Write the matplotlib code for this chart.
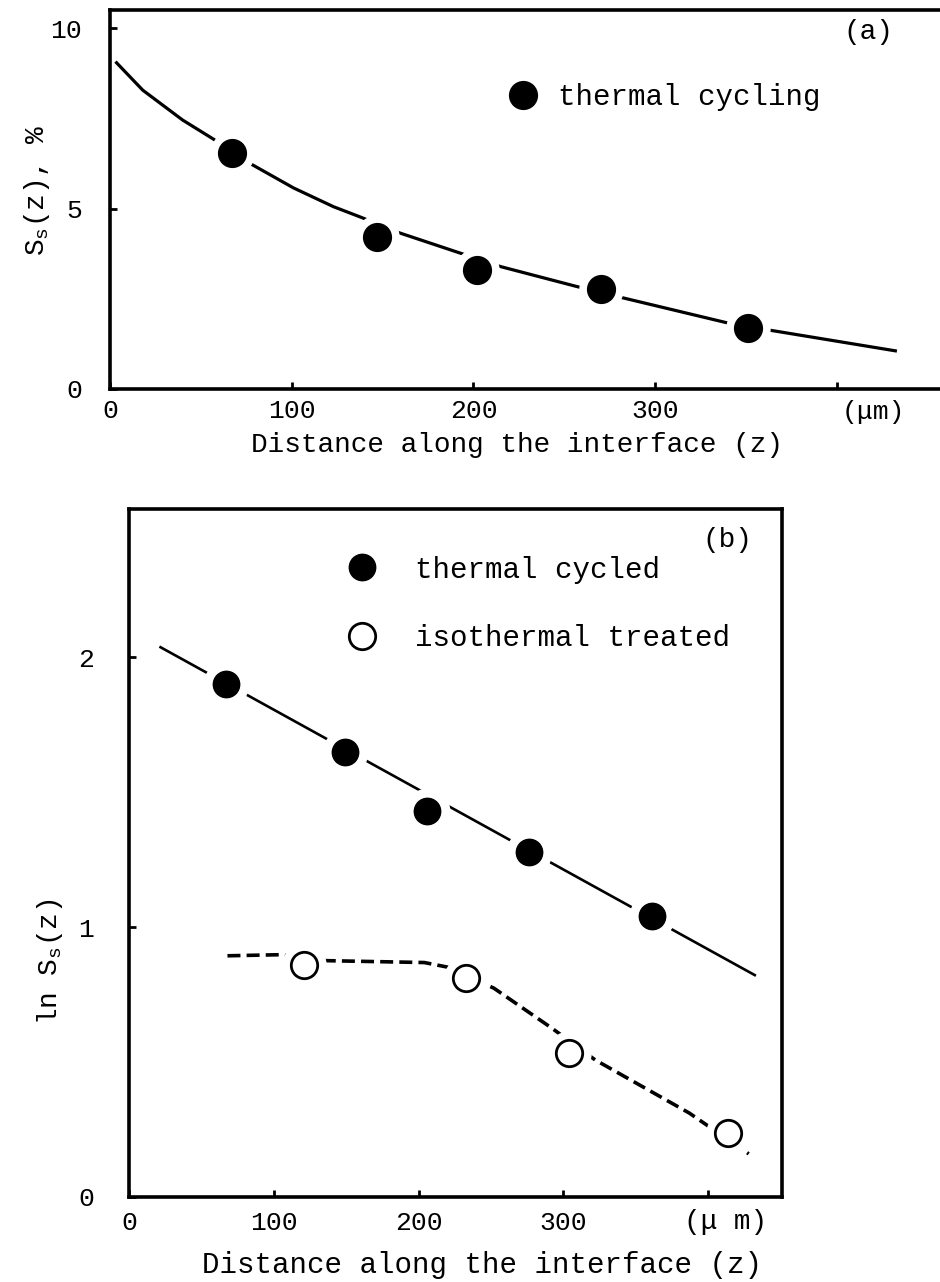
import numpy as np
import matplotlib
matplotlib.use("Agg")
import matplotlib.pyplot as plt

plt.rcParams['font.family'] = ['Liberation Mono', 'DejaVu Sans Mono']
plt.rcParams['mathtext.fontset'] = 'custom'
plt.rcParams['mathtext.rm'] = 'Liberation Mono'
plt.rcParams['mathtext.it'] = 'Liberation Mono'

# (a) thermal cycling, S_s(z) in %
a_z = [67, 147, 202, 270, 351]
a_s = [6.53, 4.22, 3.30, 2.76, 1.68]
# (a) fitted curve
a_fit_z = [3, 18, 40, 57, 77, 101, 123, 138, 159, 193, 215, 256, 281, 339, 363, 433]
a_fit_s = [9.07, 8.28, 7.45, 6.92, 6.25, 5.57, 5.05, 4.76, 4.33, 3.76, 3.39, 2.85, 2.54, 1.84, 1.63, 1.05]

# (b) ln S_s(z)
b_cyc_z = [67, 149, 206, 276, 361]
b_cyc_ln = [1.90, 1.65, 1.43, 1.28, 1.04]
b_cyc_fit_z = [21, 433]
b_cyc_fit_ln = [2.04, 0.82]
b_iso_z = [121, 233, 304, 414]
b_iso_ln = [0.86, 0.81, 0.535, 0.236]
b_iso_fit_z = [68, 104, 136, 204, 220, 252, 292, 322, 387, 428]
b_iso_fit_ln = [0.894, 0.898, 0.876, 0.869, 0.852, 0.774, 0.626, 0.508, 0.311, 0.160]

x_ticks = [0, 100, 200, 300, 400]
x_ticklabels = ['0', '100', '200', '300', '']
a_yticks = [0, 5, 10]
b_yticks = [0, 1, 2]

W, H = 940, 1282
fig = plt.figure(figsize=(9.4, 12.82), dpi=100)

# ---------------- panel (a)
ax1 = fig.add_axes([110 / W, 1 - 389 / H, 1 - 110 / W, (389 - 10) / H])
ax1.plot(a_fit_z, a_fit_s, color='black', lw=2.3, zorder=1, solid_capstyle='butt')
ax1.plot(a_z, a_s, 'o', color='white', ms=31, zorder=2)
ax1.plot(a_z, a_s, 'o', color='black', ms=20, zorder=3, label='thermal cycling')
ax1.set_xlim(0, 456.7)
ax1.set_ylim(0, 10.5)
ax1.set_xticks(x_ticks)
ax1.set_xticklabels(x_ticklabels)
ax1.set_yticks(a_yticks)
ax1.tick_params(direction='in', length=5, width=2, labelsize=19, pad=7)
ax1.tick_params(axis='y', pad=20)
ax1.spines['right'].set_visible(False)
for s in ['left', 'top', 'bottom']:
    ax1.spines[s].set_linewidth(2.6)
ax1.annotate('(\u03bcm)', xy=(420, 0), xycoords=('data', 'axes fraction'),
             xytext=(0, -23), textcoords='offset pixels', ha='center', va='center', fontsize=19)
ax1.text(0.914, 0.942, '(a)', transform=ax1.transAxes, ha='center', va='center', fontsize=20)
ax1.legend(loc='center left', bbox_to_anchor=(0.482, 0.770), frameon=False, fontsize=21,
           handlelength=0.9, handletextpad=0.75, borderpad=0, borderaxespad=0)

fig.text(517 / W, 1 - 445 / H, 'Distance along the interface (z)', ha='center', va='center', fontsize=20)
fig.text(37 / W, 1 - 190 / H, 'S$_\\mathrm{s}$(z), %', ha='center', va='center', rotation=90, fontsize=20)

# ---------------- panel (b)
ax2 = fig.add_axes([129 / W, 1 - 1197 / H, (782 - 129) / W, (1197 - 509) / H])
ax2.plot(b_cyc_fit_z, b_cyc_fit_ln, color='black', lw=1.9, zorder=1, solid_capstyle='butt')
ax2.plot(b_iso_fit_z, b_iso_fit_ln, color='black', lw=2.6, ls=(0, (3.6, 1.7)), zorder=1)
ax2.plot(b_cyc_z, b_cyc_ln, 'o', color='white', ms=32, zorder=2)
ax2.plot(b_iso_z, b_iso_ln, 'o', color='white', ms=31, zorder=2)
ax2.plot(b_cyc_z, b_cyc_ln, 'o', color='black', ms=19, zorder=3, label='thermal cycled')
ax2.plot(b_iso_z, b_iso_ln, 'o', mfc='white', mec='black', mew=2.0, ms=19, zorder=3,
         label='isothermal treated')
ax2.set_xlim(0, 451)
ax2.set_ylim(0, 2.55)
ax2.set_xticks(x_ticks)
ax2.set_xticklabels(x_ticklabels)
ax2.set_yticks(b_yticks)
ax2.tick_params(direction='in', length=5, width=2, labelsize=19, pad=10)
ax2.tick_params(axis='y', pad=25)
for s in ax2.spines.values():
    s.set_linewidth(2.6)
ax2.annotate('(\u03bc m)', xy=(412, 0), xycoords=('data', 'axes fraction'),
             xytext=(0, -25), textcoords='offset pixels', ha='center', va='center', fontsize=20)
ax2.text(0.917, 0.955, '(b)', transform=ax2.transAxes, ha='center', va='center', fontsize=20)
ax2.legend(loc='center left', bbox_to_anchor=(0.337, 0.862), frameon=False, fontsize=21,
           handlelength=0.9, handletextpad=1.35, borderpad=0, borderaxespad=0, labelspacing=1.4)

fig.text(482 / W, 1 - 1265 / H, 'Distance along the interface (z)', ha='center', va='center', fontsize=21)
fig.text(50 / W, 1 - 962 / H, 'ln S$_\\mathrm{s}$(z)', ha='center', va='center', rotation=90, fontsize=20)

fig.savefig('out.png', dpi=100, facecolor='white')
